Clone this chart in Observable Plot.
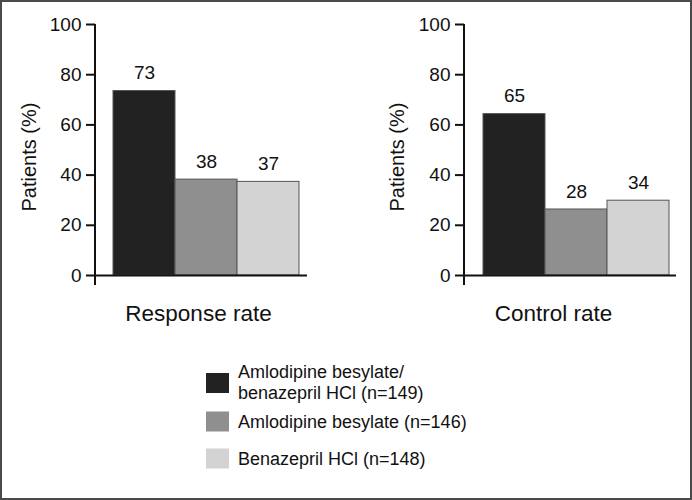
<!DOCTYPE html>
<html>
<head>
<meta charset="utf-8">
<script src="https://cdn.jsdelivr.net/npm/d3@7"></script>
<script src="https://cdn.jsdelivr.net/npm/@observablehq/plot@0.6"></script>
<style>
  html, body { margin: 0; padding: 0; background: #fff; }
  #chart { position: relative; width: 692px; height: 500px; overflow: hidden; background: #fff;
           font-family: "Liberation Sans", Arial, Helvetica, sans-serif; color: #111; }
  #frame { position: absolute; left: 0; top: 0; width: 692px; height: 500px; box-sizing: border-box;
           border: 2px solid #4a4a4a; pointer-events: none; }
  .panel { position: absolute; top: 0; }
  .panel svg [aria-label^="y-axis"] line, .panel svg [aria-label^="y-axis"] path { stroke-width: 2px; }
  .panel svg [aria-label^="y-axis"] text { font-size: 19px !important; font-variant: normal !important; }
  .legend-item { position: absolute; left: 206px; display: flex; align-items: center; transform: translateY(-50%); }
  .swatch { width: 23px; height: 20px; flex: none; }
  .legend-text { margin-left: 9px; font-size: 18px; line-height: 21px; color: #111; white-space: nowrap; }
</style>
</head>
<body>
<div id="chart"><div id="frame"></div></div>
<script>
// ---- data ----
const panels = ["Response rate", "Control rate"];
const groups = ["Amlodipine besylate/benazepril HCl", "Amlodipine besylate", "Benazepril HCl"];
const legendLines = [
  ["Amlodipine besylate/", "benazepril HCl (n=149)"],
  ["Amlodipine besylate (n=146)"],
  ["Benazepril HCl (n=148)"]
];
const colors = ["#222222", "#8f8f8f", "#d3d3d3"];
const responseBars = [73.5, 38.2, 37.3];
const responseLabels = [73, 38, 37];
const controlBars = [64.3, 26.3, 29.8];
const controlLabels = [65, 28, 34];
const yTicks = [0, 20, 40, 60, 80, 100];
const yLabel = "Patients (%)";

// ---- drawing ----
const chart = document.getElementById("chart");

function panel(title, bars, labels, o) {
  const rows = groups.map((g, i) => ({group: g, value: bars[i], label: labels[i]}));
  return Plot.plot({
    width: 346, height: 340,
    marginTop: 24, marginBottom: 65, marginLeft: o.ml, marginRight: o.mr,
    style: {fontFamily: "'Liberation Sans', Arial, Helvetica, sans-serif", fontSize: "19px", color: "#111", background: "transparent", overflow: "visible"},
    x: {domain: groups, padding: 0, insetLeft: o.il, insetRight: o.ir, axis: null},
    y: {domain: [0, 100], ticks: yTicks, tickSize: 9, tickPadding: 5, label: null},
    color: {domain: groups, range: colors},
    marks: [
      Plot.barY(rows, {x: "group", y: "value", fill: "group", stroke: "#555", strokeWidth: 1}),
      Plot.ruleY([0], {stroke: "#111", strokeWidth: 2}),
      (index, scales, values, dims) => {
        const line = d3.create("svg:line")
          .attr("x1", dims.marginLeft).attr("x2", dims.marginLeft)
          .attr("y1", dims.marginTop).attr("y2", dims.height - dims.marginBottom + 10)
          .attr("stroke", "#111").attr("stroke-width", 2);
        return line.node();
      },
      Plot.text(rows, {x: "group", y: "value", text: d => String(d.label), dy: -18, fontSize: 19, fill: "#111"}),
      Plot.text([title], {text: d => d, frameAnchor: "bottom", textAnchor: "middle", lineAnchor: "middle", dy: 38, dx: o.tdx, fontSize: 22.5, fill: "#111"}),
      Plot.text([yLabel], {text: d => d, frameAnchor: "left", textAnchor: "middle", lineAnchor: "middle", rotate: -90, dx: o.ydx, dy: 7, fontSize: 20, fill: "#111"})
    ]
  });
}

const specs = [
  {left: 0, bars: responseBars, labels: responseLabels, ml: 95, mr: 39, il: 17, ir: 8, tdx: -3, ydx: -66},
  {left: 346, bars: controlBars, labels: controlLabels, ml: 118, mr: 16, il: 19, ir: 7, tdx: -17, ydx: -67}
];
panels.forEach((title, i) => {
  const s = specs[i];
  const div = document.createElement("div");
  div.className = "panel";
  div.style.left = s.left + "px";
  div.appendChild(panel(title, s.bars, s.labels, s));
  chart.appendChild(div);
});

// legend
const legendCenters = [382.5, 421.5, 458.5];
legendLines.forEach((lines, i) => {
  const item = document.createElement("div");
  item.className = "legend-item";
  item.style.top = legendCenters[i] + "px";
  const sw = document.createElement("div");
  sw.className = "swatch";
  sw.style.background = colors[i];
  const tx = document.createElement("div");
  tx.className = "legend-text";
  lines.forEach(l => { const d = document.createElement("div"); d.textContent = l; tx.appendChild(d); });
  item.appendChild(sw);
  item.appendChild(tx);
  chart.appendChild(item);
});
</script>
</body>
</html>
